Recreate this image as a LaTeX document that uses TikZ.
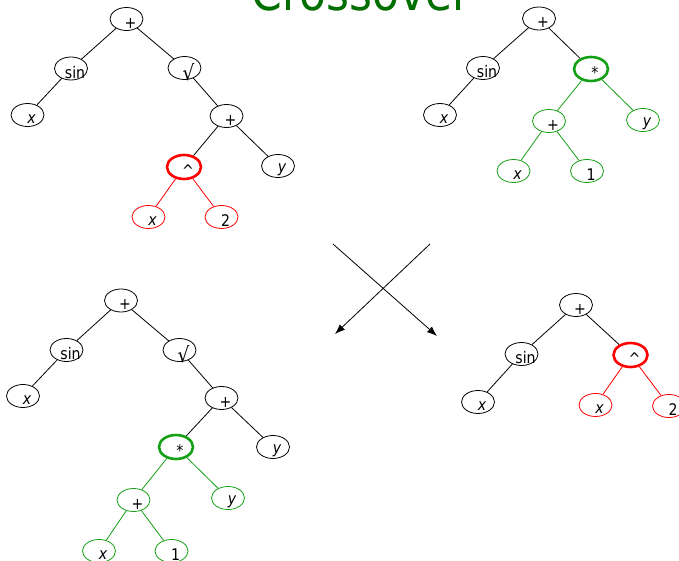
\documentclass[tikz,border=0pt]{standalone}
\usepackage{fontspec}
\setmainfont{DejaVu Sans}[FakeStretch=0.88]
\usetikzlibrary{shapes.geometric,arrows.meta}
\definecolor{tgreen}{RGB}{20,160,20}
\definecolor{titlegreen}{RGB}{0,110,0}
\definecolor{tred}{RGB}{255,0,0}

% one tree node: ellipse with its label set a little right of and below the centre
\newcommand\tn[4][]{\node[tnode,#1,label={[lbl]center:#4}] (#2) at (#3) {};}
% larger square-root sign
\newcommand\rootsign{{\fontsize{21}{21}\selectfont √}}

\begin{document}
\begin{tikzpicture}[x=1pt,y=-1pt,
  tnode/.style={ellipse,draw,line width=0.8pt,minimum width=33pt,minimum height=23pt,inner sep=0pt},
  lbl/.style={xshift=4pt,yshift=-4pt,inner sep=0pt,text=black,font=\fontsize{16}{16}\selectfont},
  red/.style={draw=tred},
  grn/.style={draw=tgreen},
  hot/.style={line width=2.6pt,minimum width=34pt,minimum height=24pt},
  blk/.style={draw=black,line width=0.8pt},
  redl/.style={draw=tred,line width=0.8pt},
  grnl/.style={draw=tgreen,line width=0.8pt},
  cross/.style={draw=black,line width=0.8pt,-{Latex[length=10pt,width=7.5pt]}}]
\useasboundingbox (0,0) rectangle (679,561);
\clip (0,0) rectangle (679,561);

% title
\node[anchor=base,text=titlegreen,inner sep=0pt,font=\fontsize{50}{50}\selectfont] (title) at (361,10.5) {Crossover};

% parent 1: sin x + sqrt(x^2 + y)
\tn{A1}{126.5,19}{+}
\tn{A2}{71,68.5}{sin}
\tn{A3}{184.5,68}{\rootsign}
\tn{A4}{27.5,115}{\itshape x}
\tn{A5}{226.5,116}{+}
\tn[red,hot]{A6}{184,167}{\textasciicircum}
\tn{A7}{278,166}{\itshape y}
\tn[red]{A8}{148.5,217}{\itshape x}
\tn[red]{A9}{221.5,217}{2}
\draw[blk] (A1) -- (A2);
\draw[blk] (A1) -- (A3);
\draw[blk] (A2) -- (A4);
\draw[blk] (A3) -- (A5);
\draw[blk] (A5) -- (A6);
\draw[blk] (A5) -- (A7);
\draw[redl] (A6) -- (A8);
\draw[redl] (A6) -- (A9);

% parent 2: sin x + (x + 1) * y
\tn{B1}{539,18.5}{+}
\tn{B2}{483,68}{sin}
\tn[grn,hot]{B3}{591,69}{*}
\tn{B4}{440,115}{\itshape x}
\tn[grn]{B5}{549,121}{+}
\tn[grn]{B6}{643,120}{\itshape y}
\tn[grn]{B7}{513.5,171}{\itshape x}
\tn[grn]{B8}{587,171}{1}
\draw[blk] (B1) -- (B2);
\draw[blk] (B1) -- (B3);
\draw[blk] (B2) -- (B4);
\draw[grnl] (B3) -- (B5);
\draw[grnl] (B3) -- (B6);
\draw[grnl] (B5) -- (B7);
\draw[grnl] (B5) -- (B8);

% exchange of the two subtrees
\coordinate (X1) at (333,244);
\coordinate (X2) at (437,336);
\coordinate (X3) at (430,244);
\coordinate (X4) at (335,334);
\draw[cross] (X1) -- (X2);
\draw[cross] (X3) -- (X4);

% offspring 1
\tn{C1}{121,300.5}{+}
\tn{C2}{66.5,350}{sin}
\tn{C3}{179.5,350}{\rootsign}
\tn{C4}{23,396}{\itshape x}
\tn{C5}{221.5,398}{+}
\tn[grn,hot]{C6}{176,447}{*}
\tn{C7}{273,447}{\itshape y}
\tn[grn]{C8}{133.5,500}{+}
\tn[grn]{C9}{228,498}{\itshape y}
\tn[grn]{C10}{99,551}{\itshape x}
\tn[grn]{C11}{171.5,551}{1}
\draw[blk] (C1) -- (C2);
\draw[blk] (C1) -- (C3);
\draw[blk] (C2) -- (C4);
\draw[blk] (C3) -- (C5);
\draw[blk] (C5) -- (C6);
\draw[blk] (C5) -- (C7);
\draw[grnl] (C6) -- (C8);
\draw[grnl] (C6) -- (C9);
\draw[grnl] (C8) -- (C10);
\draw[grnl] (C8) -- (C11);

% offspring 2
\tn{D1}{576,305}{+}
\tn{D2}{521.5,354}{sin}
\tn[red,hot]{D3}{630.5,355}{\textasciicircum}
\tn{D4}{478,402}{\itshape x}
\tn[red]{D5}{595.5,405}{\itshape x}
\tn[red]{D6}{669,406}{2}
\draw[blk] (D1) -- (D2);
\draw[blk] (D1) -- (D3);
\draw[blk] (D2) -- (D4);
\draw[redl] (D3) -- (D5);
\draw[redl] (D3) -- (D6);
\end{tikzpicture}
\end{document}
